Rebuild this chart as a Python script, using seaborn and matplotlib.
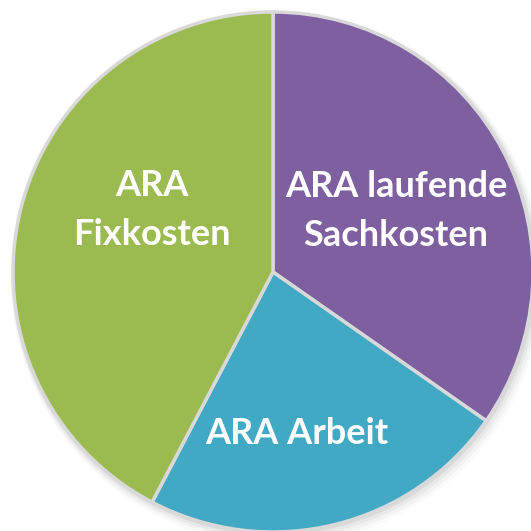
import matplotlib
matplotlib.use("Agg")
import matplotlib.pyplot as plt
import seaborn as sns
from matplotlib.patches import Circle

sns.set_theme(style="white")
plt.rcParams['font.family'] = ['Lato', 'DejaVu Sans']

categories = ["ARA laufende\nSachkosten", "ARA Arbeit", "ARA\nFixkosten"]
values = [34.7, 23.0, 42.3]
colors = ["#7E5F9F", "#41A9C4", "#9BBA50"]
label_pos_px = [(396, 211), (297, 433), (152, 210)]

W = H = 531
fig = plt.figure(figsize=(W / 100, H / 100), dpi=100)
ax = fig.add_axes([0, 0, 1, 1])
ax.set_axis_off()

cx, cy, R = 273, 272, 260

# soft shadow
for i, a in enumerate([0.05, 0.04, 0.03, 0.02]):
    ax.add_patch(Circle((0.004 * (i + 1), -0.006 * (i + 1)), 1.0 + 0.006 * (i + 1),
                        color="black", alpha=a, zorder=0, lw=0))

ax.pie(values, colors=colors, startangle=90, counterclock=False, radius=1.0,
       wedgeprops=dict(edgecolor="#D9D9D9", linewidth=2.5), center=(0, 0))
ax.set_xlim(-cx / R, (W - cx) / R)
ax.set_ylim(-(H - cy) / R, cy / R)
ax.set_aspect("equal")

for lab, (px, py) in zip(categories, label_pos_px):
    ax.text(px / W, 1 - py / H, lab, transform=ax.transAxes, ha="center", va="center",
            color="white", fontsize=26, fontweight="bold", linespacing=1.6)

fig.savefig("out.png", dpi=100)
